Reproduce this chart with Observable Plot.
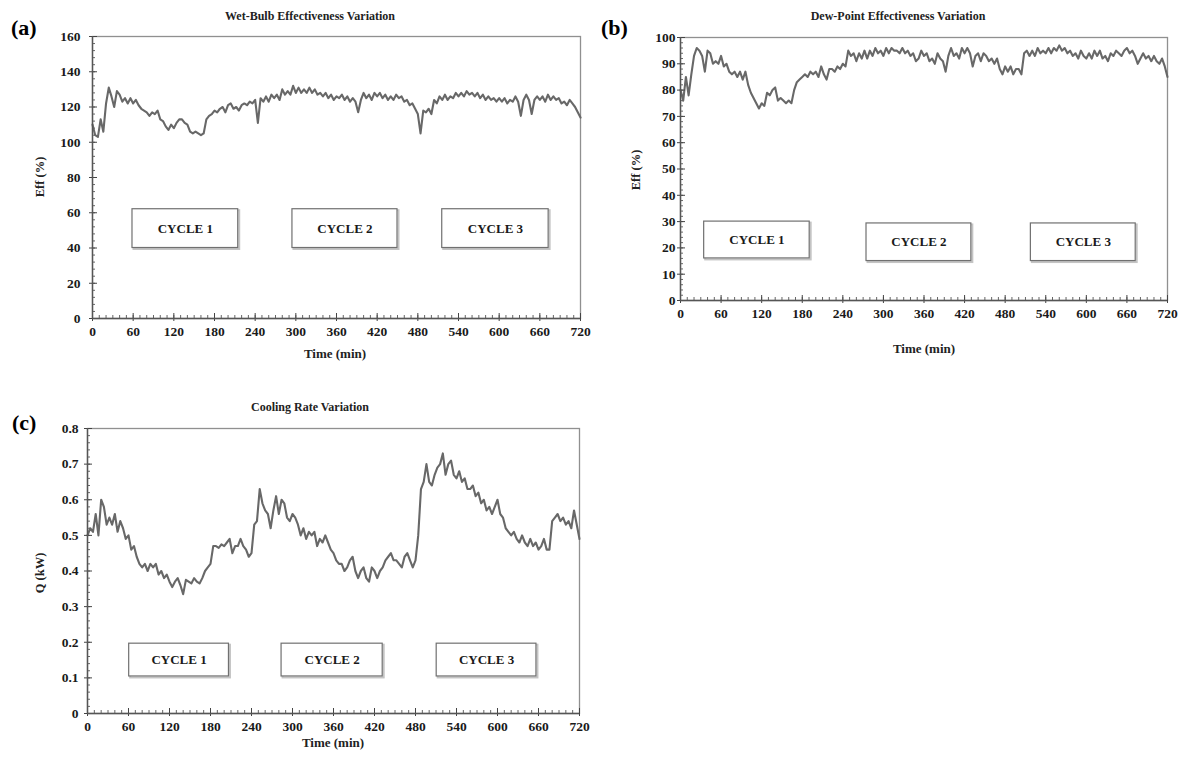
<!DOCTYPE html>
<html><head><meta charset="utf-8">
<script src="https://cdn.jsdelivr.net/npm/d3@7"></script>
<script src="https://cdn.jsdelivr.net/npm/@observablehq/plot@0.6"></script>
<style>
body{margin:0;background:#fff;font-family:"Liberation Serif","Times New Roman",serif;}
#root{position:relative;width:1188px;height:762px;overflow:hidden;background:#fff;}
.abs{position:absolute;font-weight:bold;color:#222;white-space:nowrap;line-height:1;}
.title{font-size:12px;transform:translate(-50%,-50%);}
.tag{font-size:22px;transform:translateY(-50%);color:#000;}
.xl{font-size:13px;transform:translate(-50%,-50%);}
.yl{font-size:12.5px;transform:translate(-50%,-50%) rotate(-90deg);}
.panel{position:absolute;}
</style></head><body><div id="root"></div>
<script>
// ---- data ----
const time = d3.range(0, 721, 4); // minutes, 4-min sampling
const xTicks = [0,60,120,180,240,300,360,420,480,540,600,660,720];
const yTicksA = [0,20,40,60,80,100,120,140,160];
const yTicksB = [0,10,20,30,40,50,60,70,80,90,100];
const yTicksC = [0,0.1,0.2,0.3,0.4,0.5,0.6,0.7,0.8];
const cycleLabels = ["CYCLE 1","CYCLE 2","CYCLE 3"];

const wetBulbEff = [
110,104,103,113,106,122,131,126,120,129,
127,123,125,122,125,122,124,121,119,118,
117,115,117,116,118,113,112,109,107,110,
108,111,113,113,111,110,106,105,106,105,
104,105,113,115,116,118,117,119,120,117,
121,122,119,120,118,121,122,121,123,122,
124,111,125,123,126,123,127,125,127,124,
130,127,129,127,132,128,131,128,130,128,
131,128,130,127,128,126,128,125,127,124,
126,125,127,124,126,123,125,123,117,124,
128,125,127,124,128,126,128,125,127,124,
126,124,127,125,126,123,124,121,122,119,
116,105,118,117,119,116,124,122,126,124,
127,124,126,125,128,126,128,126,129,127,
128,126,128,125,127,124,126,124,125,123,
125,123,125,122,124,123,126,123,115,124,
127,124,116,124,126,124,126,123,127,124,
126,124,125,122,123,121,124,122,120,117,
114];

const dewPointEff = [
80,76,85,78,86,93,96,95,93,87,
95,94,90,91,90,93,89,90,87,86,
87,85,87,84,87,82,79,77,75,73,
75,74,79,78,80,81,76,77,76,75,
76,75,80,83,84,85,86,85,87,86,
87,85,89,86,84,88,88,87,89,88,
90,89,95,93,94,91,94,92,95,92,
95,93,96,94,95,93,96,94,96,95,
95,94,96,94,95,93,94,91,92,95,
93,94,91,92,90,94,92,91,87,93,
96,93,94,92,96,94,96,94,89,93,
94,91,94,93,91,92,90,92,88,86,
89,87,89,86,88,88,86,94,95,93,
95,93,96,94,95,94,96,94,96,95,
97,95,96,94,95,93,94,92,95,93,
92,94,92,95,93,95,92,93,91,94,
93,95,94,93,95,96,94,95,93,90,
92,94,92,93,91,93,91,90,92,89,
85];

const coolingRate = [
0.50,0.52,0.51,0.56,0.50,0.60,0.58,0.53,0.55,0.53,
0.56,0.51,0.54,0.52,0.49,0.50,0.46,0.47,0.44,0.42,
0.41,0.42,0.40,0.42,0.41,0.42,0.39,0.40,0.38,0.39,
0.37,0.355,0.37,0.38,0.36,0.335,0.375,0.37,0.365,0.38,
0.37,0.365,0.38,0.40,0.41,0.42,0.47,0.47,0.465,0.475,
0.47,0.48,0.49,0.45,0.47,0.47,0.49,0.47,0.46,0.44,
0.45,0.53,0.54,0.63,0.59,0.57,0.56,0.52,0.57,0.61,
0.56,0.60,0.59,0.55,0.54,0.56,0.55,0.53,0.50,0.52,
0.49,0.51,0.50,0.51,0.47,0.49,0.48,0.50,0.48,0.46,
0.45,0.43,0.42,0.42,0.40,0.41,0.43,0.44,0.40,0.38,
0.40,0.41,0.38,0.37,0.41,0.40,0.38,0.40,0.41,0.43,
0.44,0.45,0.43,0.43,0.42,0.41,0.44,0.45,0.43,0.41,
0.43,0.50,0.63,0.65,0.70,0.65,0.64,0.67,0.69,0.70,
0.73,0.67,0.70,0.71,0.67,0.66,0.68,0.65,0.66,0.63,
0.63,0.64,0.61,0.62,0.59,0.60,0.57,0.58,0.56,0.58,
0.60,0.56,0.55,0.52,0.51,0.50,0.51,0.49,0.48,0.50,
0.48,0.47,0.49,0.47,0.48,0.46,0.47,0.49,0.46,0.46,
0.54,0.55,0.56,0.54,0.55,0.53,0.54,0.52,0.57,0.53,
0.49];

// cycle annotation boxes: [start, end] in minutes, [low, high] in y units
const boxXA = [[59,215],[295,450],[516,673]];
const boxYA = [[40,62],[40,62],[40,62]];
const boxXB = [[35,191],[275,430],[518,673]];
const boxYB = [[16,30],[15,29.3],[15,29.3]];
const boxXC = [[61,207],[284,432],[511,657]];
const boxYC = [[0.104,0.196],[0.104,0.196],[0.104,0.196]];

// ---- drawing ----
const root = document.getElementById("root");
function addText(cls, txt, x, y){
  const d = document.createElement("div");
  d.className = "abs " + cls; d.textContent = txt;
  d.style.left = x + "px"; d.style.top = y + "px";
  root.appendChild(d);
}

function panel({left, top, width, height, margin, values, yDomain, yTicks, yMinorStep, yPad, boxX, boxY, fmt}) {
  const data = time.map((t, i) => ({t, v: values[i]}));
  const boxData = cycleLabels.map((label, i) => ({label, x1: boxX[i][0], x2: boxX[i][1], y1: boxY[i][0], y2: boxY[i][1]}));
  const xMinor = d3.range(0, 721, 10);
  const yMinor = d3.range(yDomain[0], yDomain[1] + yMinorStep/2, yMinorStep);
  const chart = Plot.plot({
    width, height,
    marginTop: margin[0], marginRight: margin[1], marginBottom: margin[2], marginLeft: margin[3],
    style: {fontFamily: "'Liberation Serif', 'Times New Roman', serif", fontWeight: "bold", fontSize: "13.5px", color: "#1a1a1a", background: "transparent", overflow: "visible"},
    x: {domain: [0, 720]},
    y: {domain: yDomain},
    marks: [
      Plot.frame({stroke: "#909090", strokeWidth: 1.3}),
      Plot.rect(boxData, {x1: "x1", x2: "x2", y1: "y1", y2: "y2", fill: "none", stroke: "#c4c4c4", strokeWidth: 2, dx: 1.5, dy: 1.5}),
      Plot.rect(boxData, {x1: "x1", x2: "x2", y1: "y1", y2: "y2", fill: "white", stroke: "#707070", strokeWidth: 1.2}),
      Plot.text(boxData, {x: d => (d.x1 + d.x2) / 2, y: d => (d.y1 + d.y2) / 2, text: "label", fontSize: 13, fontWeight: "bold", fill: "#1a1a1a"}),
      Plot.line(data, {x: "t", y: "v", stroke: "#686868", strokeWidth: 2.1, strokeLinejoin: "round"}),
      Plot.axisX(xMinor, {tickSize: -3, text: null, stroke: "#666", label: null}),
      Plot.axisX(xTicks, {tickSize: -5, text: null, stroke: "#444", label: null}),
      Plot.axisX(xTicks, {tickSize: 3, tickPadding: 5, tickFormat: d => String(d), stroke: "#444", label: null, fontSize: 13.5}),
      Plot.axisY(yMinor, {tickSize: -3, text: null, stroke: "#666", label: null}),
      Plot.axisY(yTicks, {tickSize: -5, text: null, stroke: "#444", label: null}),
      Plot.axisY(yTicks, {tickSize: 3, tickPadding: yPad, tickFormat: fmt, stroke: "#444", label: null, fontSize: 13.5}),
      Plot.ruleX([0], {stroke: "#555", strokeWidth: 1.4}),
      Plot.ruleY([yDomain[0]], {stroke: "#555", strokeWidth: 1.4})
    ]
  });
  const wrap = document.createElement("div");
  wrap.className = "panel";
  wrap.style.left = left + "px"; wrap.style.top = top + "px";
  wrap.appendChild(chart);
  root.appendChild(wrap);
}

panel({left: 0, top: 0, width: 600, height: 370, margin: [36, 20, 52, 92],
  values: wetBulbEff, yDomain: [0, 160], yTicks: yTicksA, yMinorStep: 4, yPad: 9,
  boxX: boxXA, boxY: boxYA, fmt: d => String(d)});
panel({left: 600, top: 0, width: 588, height: 370, margin: [37, 21, 70, 80],
  values: dewPointEff, yDomain: [0, 100], yTicks: yTicksB, yMinorStep: 2, yPad: 2,
  boxX: boxXB, boxY: boxYB, fmt: d => String(d)});
panel({left: 0, top: 380, width: 600, height: 382, margin: [48, 21, 49, 87],
  values: coolingRate, yDomain: [0, 0.8], yTicks: yTicksC, yMinorStep: 0.02, yPad: 6,
  boxX: boxXC, boxY: boxYC, fmt: d => String(+d.toFixed(1))});

addText("title", "Wet-Bulb Effectiveness Variation", 310, 16);
addText("title", "Dew-Point Effectiveness Variation", 898, 16);
addText("title", "Cooling Rate Variation", 310, 407);
addText("tag", "(a)", 11, 28);
addText("tag", "(b)", 601, 28);
addText("tag", "(c)", 12, 423);
addText("xl", "Time (min)", 335, 353);
addText("xl", "Time (min)", 924, 348);
addText("xl", "Time (min)", 333, 742);
addText("yl", "Eff (%)", 40, 177);
addText("yl", "Eff (%)", 636, 170);
addText("yl", "Q (kW)", 40, 573);
</script>
</body></html>
